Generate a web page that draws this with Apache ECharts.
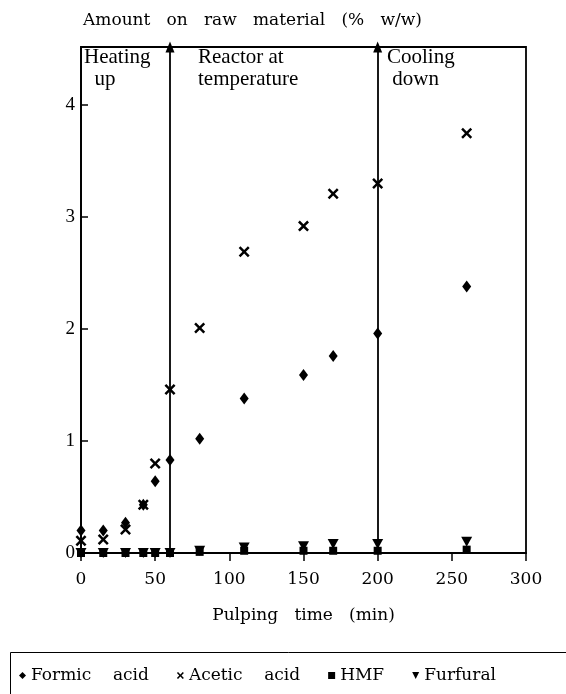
<!DOCTYPE html>
<html>
<head>
<meta charset="utf-8">
<script src="https://cdn.jsdelivr.net/npm/echarts@6/dist/echarts.min.js"></script>
<style>
  html, body { margin: 0; padding: 0; background: #fff; }
  #chart { width: 566px; height: 694px; }
</style>
</head>
<body>
<div id="chart"></div>
<script>
// pulping time (min)
var times = [0, 15, 30, 42, 50, 60, 80, 110, 150, 170, 200, 260]
var formic = [0.2, 0.2, 0.27, 0.43, 0.64, 0.83, 1.02, 1.38, 1.59, 1.76, 1.96, 2.38]
var acetic = [0.11, 0.12, 0.21, 0.43, 0.8, 1.46, 2.01, 2.69, 2.92, 3.21, 3.3, 3.75]
var hmf = [0, 0, 0, 0, 0, 0, 0.01, 0.02, 0.02, 0.02, 0.02, 0.03]
var furfural = [0, 0, 0, 0, 0, 0, 0.02, 0.05, 0.06, 0.08, 0.08, 0.1]
var phaseBounds = [60, 200]
var xTicks = [0, 50, 100, 150, 200, 250, 300]
var yTicks = [0, 1, 2, 3, 4]

var serif = 'Liberation Serif'
var crossPath = 'path://M0,1.6L1.6,0L5,3.4L8.4,0L10,1.6L6.6,5L10,8.4L8.4,10L5,6.6L1.6,10L0,8.4L3.4,5Z'
var triDown = 'path://M0,0L10,0L5,10Z'

function pairs(ys) {
    var out = []
    times.forEach(function (t, i) { out.push([t, ys[i]]) })
    return out
}

var chart = echarts.init(document.getElementById('chart'))
chart.setOption({
    animation: false,
    backgroundColor: '#fff',
    title: {
        text: 'Amount   on   raw   material   (%   w/w)',
        left: 78, top: 7,
        textStyle: { fontFamily: 'DejaVu Serif', fontSize: 17, fontWeight: 'normal', color: '#000' }
    },
    grid: {
        left: 81, right: 40, top: 47, bottom: 141,
        show: true, borderColor: '#000', borderWidth: 1.8
    },
    legend: {
        left: 14, top: 662,
        itemGap: 28, itemWidth: 7, itemHeight: 7,
        textStyle: { fontFamily: 'DejaVu Serif', fontSize: 17, color: '#000' },
        data: [
            { name: 'Formic    acid', icon: 'diamond' },
            { name: 'Acetic    acid', icon: crossPath },
            { name: 'HMF', icon: 'rect' },
            { name: 'Furfural', icon: triDown }
        ]
    },
    graphic: [
        { type: 'rect', left: 8, top: 650, shape: { width: 600, height: 60 },
          style: { fill: 'none', stroke: '#000', lineWidth: 1 } },
        { type: 'text', left: 84, top: 46,
          style: { text: 'Heating\n  up', font: '21px "Liberation Serif"', fill: '#000', lineHeight: 22 } },
        { type: 'text', left: 198, top: 46,
          style: { text: 'Reactor at\ntemperature', font: '21px "Liberation Serif"', fill: '#000', lineHeight: 22 } },
        { type: 'text', left: 387, top: 46,
          style: { text: 'Cooling\n down', font: '21px "Liberation Serif"', fill: '#000', lineHeight: 22 } }
    ],
    xAxis: {
        type: 'value', min: 0, max: 300, interval: 50,
        name: 'Pulping   time   (min)', nameLocation: 'middle', nameGap: 54,
        nameTextStyle: { fontFamily: 'DejaVu Serif', fontSize: 17, color: '#000' },
        axisLine: { lineStyle: { color: '#000', width: 2 } },
        axisTick: { inside: false, length: 8, lineStyle: { color: '#000', width: 1.5 } },
        axisLabel: {
            color: '#000', fontFamily: 'DejaVu Serif', fontSize: 17, margin: 18,
            customValues: xTicks
        },
        splitLine: { show: false }
    },
    yAxis: {
        type: 'value', min: 0, max: 4.52, interval: 1,
        axisLine: { lineStyle: { color: '#000', width: 1.8 } },
        axisTick: { inside: true, length: 7, lineStyle: { color: '#000', width: 1.5 } },
        axisLabel: {
            color: '#000', fontFamily: serif, fontSize: 19, margin: 6,
            customValues: yTicks
        },
        splitLine: { show: false }
    },
    series: [
        {
            name: 'Formic    acid', type: 'scatter', clip: false,
            symbol: 'diamond', symbolSize: [9, 12],
            itemStyle: { color: '#000', opacity: 1 },
            data: pairs(formic),
            markLine: {
                silent: true, symbol: ['none', 'triangle'], symbolSize: [9, 11],
                label: { show: false },
                lineStyle: { color: '#000', width: 1.8, type: 'solid' },
                data: phaseBounds.map(function (b) { return { xAxis: b } })
            }
        },
        {
            name: 'Acetic    acid', type: 'scatter', clip: false,
            symbol: crossPath, symbolSize: 11,
            itemStyle: { color: '#000', opacity: 1 },
            data: pairs(acetic)
        },
        {
            name: 'HMF', type: 'scatter', clip: false,
            symbol: 'rect', symbolSize: 8,
            itemStyle: { color: '#000', opacity: 1 },
            data: pairs(hmf)
        },
        {
            name: 'Furfural', type: 'scatter', clip: false,
            symbol: triDown, symbolSize: [11, 10],
            itemStyle: { color: '#000', opacity: 1 },
            data: pairs(furfural)
        }
    ]
})
</script>
</body>
</html>
